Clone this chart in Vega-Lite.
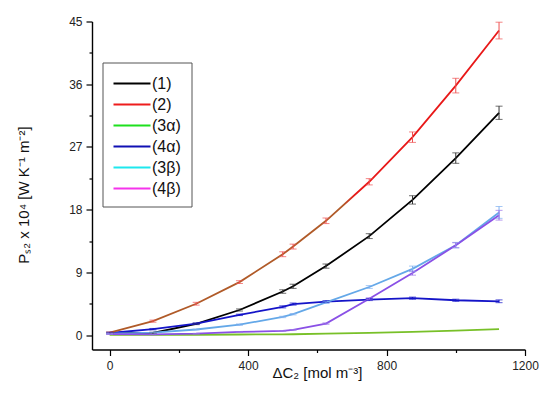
{
  "$schema": "https://vega.github.io/schema/vega-lite/v6.json",
  "width": 433,
  "height": 328,
  "autosize": {"type": "none"},
  "padding": {"left": 92, "top": 21.5, "right": 25, "bottom": 44},
  "config": {
    "view": {"stroke": null},
    "font": "Liberation Sans",
    "axis": {"grid": false, "domainColor": "#000", "domainWidth": 1.4, "tickColor": "#000", "tickWidth": 1.2, "labelFontSize": 12, "labelColor": "#222", "labelFont": "Liberation Sans", "titleFont": "Liberation Sans", "titleFontWeight": "normal", "titleColor": "#111", "titleFontSize": 15}
  },
  "data": {
    "values": [
      {"s": "(1)", "x": 0, "y": 0.3, "e": 0.1},
      {"s": "(1)", "x": 125, "y": 0.3, "e": 0.1},
      {"s": "(1)", "x": 250, "y": 1.6, "e": 0.1},
      {"s": "(1)", "x": 375, "y": 3.6, "e": 0.15},
      {"s": "(1)", "x": 500, "y": 6.25, "e": 0.25},
      {"s": "(1)", "x": 530, "y": 7.0, "e": 0.3},
      {"s": "(1)", "x": 625, "y": 9.9, "e": 0.3},
      {"s": "(1)", "x": 750, "y": 14.2, "e": 0.35},
      {"s": "(1)", "x": 875, "y": 19.4, "e": 0.6},
      {"s": "(1)", "x": 1000, "y": 25.4, "e": 0.75},
      {"s": "(1)", "x": 1125, "y": 31.9, "e": 0.95},
      {"s": "(2)", "x": 0, "y": 0.35, "e": 0.1},
      {"s": "(2)", "x": 125, "y": 2.0, "e": 0.15},
      {"s": "(2)", "x": 250, "y": 4.5, "e": 0.2},
      {"s": "(2)", "x": 375, "y": 7.6, "e": 0.2},
      {"s": "(2)", "x": 500, "y": 11.6, "e": 0.35},
      {"s": "(2)", "x": 530, "y": 12.7, "e": 0.35},
      {"s": "(2)", "x": 625, "y": 16.4, "e": 0.4},
      {"s": "(2)", "x": 750, "y": 22.0, "e": 0.45},
      {"s": "(2)", "x": 875, "y": 28.4, "e": 0.75},
      {"s": "(2)", "x": 1000, "y": 35.8, "e": 1.05},
      {"s": "(2)", "x": 1125, "y": 43.7, "e": 1.2},
      {"s": "(3α)", "x": 0, "y": 0.05, "e": 0},
      {"s": "(3α)", "x": 125, "y": 0.03, "e": 0},
      {"s": "(3α)", "x": 250, "y": 0.05, "e": 0},
      {"s": "(3α)", "x": 375, "y": 0.08, "e": 0},
      {"s": "(3α)", "x": 500, "y": 0.1, "e": 0},
      {"s": "(3α)", "x": 530, "y": 0.12, "e": 0},
      {"s": "(3α)", "x": 625, "y": 0.2, "e": 0},
      {"s": "(3α)", "x": 750, "y": 0.32, "e": 0},
      {"s": "(3α)", "x": 875, "y": 0.45, "e": 0},
      {"s": "(3α)", "x": 1000, "y": 0.65, "e": 0},
      {"s": "(3α)", "x": 1125, "y": 0.85, "e": 0},
      {"s": "(4α)", "x": 0, "y": 0.3, "e": 0.1},
      {"s": "(4α)", "x": 125, "y": 0.85, "e": 0.1},
      {"s": "(4α)", "x": 250, "y": 1.65, "e": 0.1},
      {"s": "(4α)", "x": 375, "y": 2.9, "e": 0.1},
      {"s": "(4α)", "x": 500, "y": 4.05, "e": 0.15},
      {"s": "(4α)", "x": 530, "y": 4.45, "e": 0.15},
      {"s": "(4α)", "x": 625, "y": 4.8, "e": 0.15},
      {"s": "(4α)", "x": 750, "y": 5.1, "e": 0.15},
      {"s": "(4α)", "x": 875, "y": 5.3, "e": 0.15},
      {"s": "(4α)", "x": 1000, "y": 5.0, "e": 0.15},
      {"s": "(4α)", "x": 1125, "y": 4.85, "e": 0.2},
      {"s": "(3β)", "x": 0, "y": 0.2, "e": 0.05},
      {"s": "(3β)", "x": 125, "y": 0.35, "e": 0.05},
      {"s": "(3β)", "x": 250, "y": 0.8, "e": 0.05},
      {"s": "(3β)", "x": 375, "y": 1.5, "e": 0.1},
      {"s": "(3β)", "x": 500, "y": 2.6, "e": 0.1},
      {"s": "(3β)", "x": 530, "y": 3.0, "e": 0.1},
      {"s": "(3β)", "x": 625, "y": 4.7, "e": 0.15},
      {"s": "(3β)", "x": 750, "y": 6.9, "e": 0.2},
      {"s": "(3β)", "x": 875, "y": 9.5, "e": 0.4},
      {"s": "(3β)", "x": 1000, "y": 12.9, "e": 0.4},
      {"s": "(3β)", "x": 1125, "y": 17.6, "e": 0.85},
      {"s": "(4β)", "x": 0, "y": 0.15, "e": 0.05},
      {"s": "(4β)", "x": 125, "y": 0.1, "e": 0.05},
      {"s": "(4β)", "x": 250, "y": 0.2, "e": 0.05},
      {"s": "(4β)", "x": 375, "y": 0.45, "e": 0.05},
      {"s": "(4β)", "x": 500, "y": 0.6, "e": 0.05},
      {"s": "(4β)", "x": 530, "y": 0.75, "e": 0.05},
      {"s": "(4β)", "x": 625, "y": 1.65, "e": 0.1},
      {"s": "(4β)", "x": 750, "y": 5.2, "e": 0.15},
      {"s": "(4β)", "x": 875, "y": 8.9, "e": 0.3},
      {"s": "(4β)", "x": 1000, "y": 12.9, "e": 0.35},
      {"s": "(4β)", "x": 1125, "y": 17.2, "e": 0.7}
    ]
  },
  "encoding": {
    "x": {
      "field": "x", "type": "quantitative",
      "scale": {"domain": [-51, 1200], "nice": false, "zero": false},
      "axis": {
        "values": [0, 200, 400, 600, 800, 1000, 1200],
        "format": "d",
        "labelExpr": "datum.value % 400 === 0 ? datum.label : ''",
        "tickSize": {"condition": {"test": "datum.value % 400 === 0", "value": 6}, "value": 3},
        "labelPadding": 5,
        "labelFlush": false,
        "labelOverlap": false,
        "title": "ΔC₂ [mol m⁻³]",
        "titleX": 225,
        "titleY": 28,
        "titleBaseline": "alphabetic",
        "titleAlign": "center"
      }
    },
    "y": {
      "field": "y", "type": "quantitative",
      "scale": {"domain": [-2.07, 45], "nice": false, "zero": false},
      "axis": {
        "values": [0, 4.5, 9, 13.5, 18, 22.5, 27, 31.5, 36, 40.5, 45],
        "labelExpr": "datum.value % 9 === 0 ? datum.label : ''",
        "tickSize": {"condition": {"test": "datum.value % 9 === 0", "value": 6}, "value": 3},
        "labelPadding": 4,
        "labelFlush": false,
        "labelOverlap": false,
        "title": "Pₛ₂ x 10⁴ [W K⁻¹ m⁻²]",
        "titleX": -69,
        "titleY": 173,
        "titleAngle": -90,
        "titleAlign": "center",
        "titleBaseline": "middle"
      }
    }
  },
  "layer": [
    {
      "mark": {"type": "line", "opacity": 0},
      "encoding": {
        "color": {
          "field": "s", "type": "nominal",
          "scale": {"domain": ["(1)", "(2)", "(3α)", "(4α)", "(3β)", "(4β)"], "range": ["#000000", "#ee1c1c", "#1ee01e", "#1010b4", "#1ee8ee", "#f533ec"]},
          "legend": {
            "orient": "none", "legendX": 10.5, "legendY": 41, "title": null,
            "symbolType": "M-1.85,0H1.85", "symbolSize": 400, "symbolStrokeWidth": 2, "symbolOpacity": 1,
            "symbolOffset": 8.5,
            "labelFontSize": 16, "labelOffset": 9, "labelColor": "#111", "rowPadding": 2,
            "padding": 10, "strokeColor": "#555", "fillColor": "white"
          }
        }
      }
    },
    {
      "transform": [{"filter": "datum.s !== '(2)'"}],
      "mark": {"type": "line", "strokeWidth": 1.8},
      "encoding": {
        "color": {
          "field": "s", "type": "nominal",
          "scale": {"domain": ["(1)", "(3α)", "(4α)", "(3β)", "(4β)"], "range": ["#000000", "#78c028", "#1414c8", "#64a8e8", "#8a50e6"]},
          "legend": null
        }
      }
    },
    {
      "transform": [{"filter": "datum.s === '(2)'"}],
      "mark": {
        "type": "line", "strokeWidth": 1.8,
        "stroke": {"gradient": "linear", "x1": 0, "y1": 0, "x2": 1, "y2": 0,
          "stops": [{"offset": 0, "color": "#b05a28"}, {"offset": 0.6, "color": "#b05a28"}, {"offset": 0.63, "color": "#e81818"}, {"offset": 1, "color": "#e81818"}]}
      },
      "encoding": {}
    },
    {
      "transform": [{"filter": "datum.e > 0"}],
      "mark": {"type": "errorbar", "ticks": {"size": 7}, "thickness": 1},
      "encoding": {
        "yError": {"field": "e"},
        "color": {
          "field": "s", "type": "nominal",
          "scale": {"domain": ["(1)", "(2)", "(4α)", "(3β)", "(4β)"], "range": ["#333333", "#ee5050", "#1414c8", "#80b0f0", "#9a70e8"]},
          "legend": null
        }
      }
    }
  ],
  "resolve": {"scale": {"color": "independent"}}
}
